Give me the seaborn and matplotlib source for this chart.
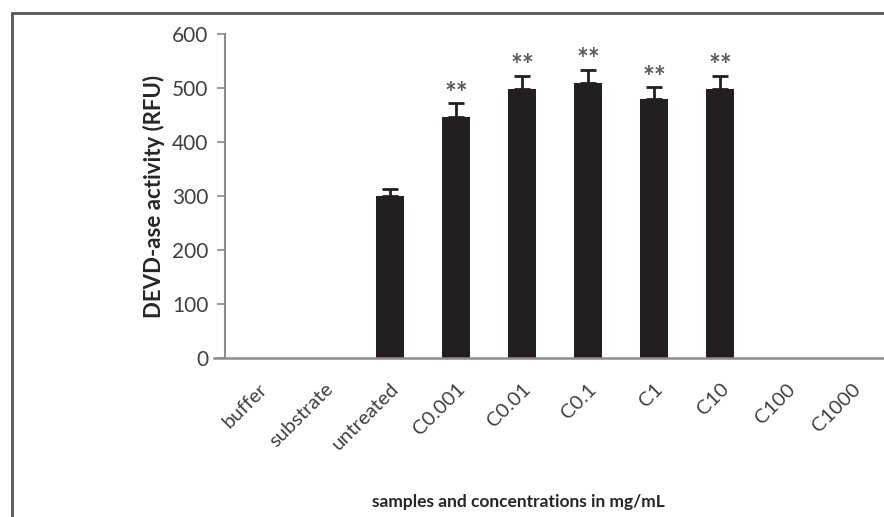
import matplotlib
matplotlib.use("Agg")
import matplotlib.pyplot as plt
import matplotlib.transforms as mtransforms
from matplotlib.patches import Rectangle
import numpy as np
import pandas as pd
import seaborn as sns

# DEVD-ase activity per sample / concentration (mg/mL)
categories = ["buffer", "substrate", "untreated", "C0.001", "C0.01",
              "C0.1", "C1", "C10", "C100", "C1000"]
activity = [0, 0, 300, 447, 498, 509, 480, 498, 0, 0]
sd = [0, 0, 13, 25, 25, 25, 21, 25, 0, 0]
significance = ["", "", "", "**", "**", "**", "**", "**", "", ""]
y_ticks = [0, 100, 200, 300, 400, 500, 600]

sns.set_theme(style="white")
plt.rcParams["font.family"] = ["Lato", "DejaVu Sans"]

df = pd.DataFrame({"sample": categories, "activity": activity})

fig = plt.figure(figsize=(8.84, 5.17), dpi=100)
ax = fig.add_axes([225 / 884, 159 / 517, 660 / 884, 324 / 517])

sns.barplot(data=df, x="sample", y="activity", order=categories,
            color="#231f20", saturation=1, width=0.41, errorbar=None,
            linewidth=0, ax=ax)

# upper error bars only
x = np.arange(len(categories))
vals = np.array(activity, dtype=float)
errs = np.array(sd, dtype=float)
mask = vals > 0
ax.errorbar(x[mask], vals[mask], yerr=[np.zeros(mask.sum()), errs[mask]],
            fmt="none", ecolor="#231f20", elinewidth=2, capsize=6,
            capthick=2)

# significance markers
for xi, v, e, s in zip(x, vals, errs, significance):
    if s:
        ax.text(xi, v + e + 17, s, ha="center", va="center",
                fontsize=20, color="#5a5a5a", fontweight="bold")

ax.set_xlim(-0.5, 9.5)
ax.set_ylim(0, 600)
ax.set_yticks(y_ticks)
ax.set_yticklabels([str(t) for t in y_ticks], fontsize=15, color="#404040")

ax.set_xticks(x)
ax.set_xticklabels(categories, rotation=45, ha="right",
                   rotation_mode="anchor", fontsize=14.5, color="#404040")
offset = mtransforms.ScaledTranslation(5 / 100, 0, fig.dpi_scale_trans)
for lbl in ax.get_xticklabels():
    lbl.set_transform(lbl.get_transform() + offset)

ax.tick_params(axis="y", which="major", left=True, length=6, width=1.2,
               color="#8c8c8c", pad=6)
ax.tick_params(axis="x", which="major", bottom=False, pad=10)

for side in ["top", "right"]:
    ax.spines[side].set_visible(False)
ax.spines["left"].set_color("#8c8c8c")
ax.spines["left"].set_linewidth(1.5)
ax.spines["bottom"].set_color("#8c8c8c")
ax.spines["bottom"].set_linewidth(1.8)
ax.spines["bottom"].set_bounds(-0.67, 9.5)

ax.set_ylabel("DEVD-ase activity (RFU)", fontsize=16, fontweight="bold",
              color="#262626", labelpad=5)
ax.set_xlabel("samples and concentrations in mg/mL", fontsize=12.5,
              fontweight="bold", color="#262626")
ax.xaxis.set_label_coords(0.445, -0.42)

# frame around the figure
fig.patches.append(Rectangle((11.5 / 884, -0.1), 1.2, (517 - 12.5) / 517 + 0.1,
                             transform=fig.transFigure, fill=False,
                             edgecolor="#555555", linewidth=2))

fig.savefig("out.png", dpi=100, facecolor="white")
